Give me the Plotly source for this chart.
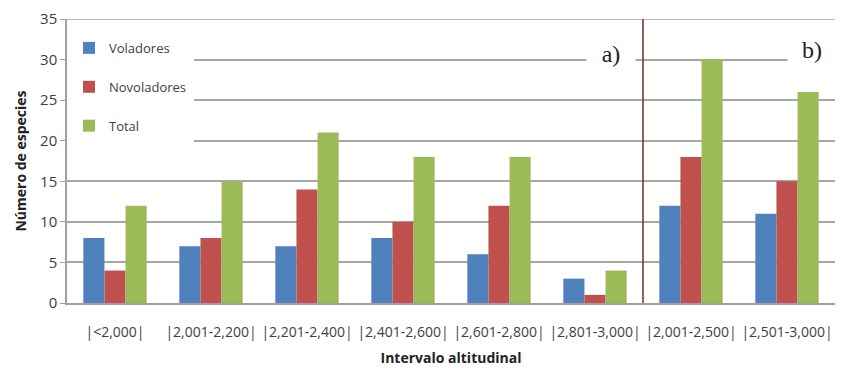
import plotly.graph_objects as go

categories = ["|<2,000|", "|2,001-2,200|", "|2,201-2,400|", "|2,401-2,600|",
              "|2,601-2,800|", "|2,801-3,000|", "|2,001-2,500|", "|2,501-3,000|"]
voladores = [8, 7, 7, 8, 6, 3, 12, 11]
novoladores = [4, 8, 14, 10, 12, 1, 18, 15]
total = [12, 15, 21, 18, 18, 4, 30, 26]
y_ticks = [0, 5, 10, 15, 20, 25, 30, 35]
y_max = 35

fig = go.Figure()
series = [("Voladores", voladores, "#4f81bd"),
          ("Novoladores", novoladores, "#c0504d"),
          ("Total", total, "#9bbb59")]
for i, (name, vals, col) in enumerate(series):
    fig.add_trace(go.Bar(x=list(range(len(categories))), y=vals, name=name,
                         marker=dict(color=col, line=dict(width=0)),
                         legendgroup=f"g{i}"))

# top gridline (plotly omits the gridline at the range edge)
fig.add_shape(type="line", xref="paper", yref="y", x0=0, x1=1, y0=y_max, y1=y_max,
              line=dict(color="#a6a6a6", width=1.5), layer="below")
fig.add_shape(type="line", xref="x", yref="paper", x0=5.5, x1=5.5, y0=0, y1=1,
              line=dict(color="#7a2626", width=1.5))

fig.add_annotation(x=0.708, y=0.877, xref="paper", yref="paper", text="a)",
                   showarrow=False, bgcolor="white", borderpad=6, width=36,
                   xanchor="center", yanchor="middle",
                   font=dict(family="Liberation Serif", size=24, color="#222"))
fig.add_annotation(x=0.970, y=0.891, xref="paper", yref="paper", text="b)",
                   showarrow=False, bgcolor="white", borderpad=6, width=36,
                   xanchor="center", yanchor="middle",
                   font=dict(family="Liberation Serif", size=24, color="#222"))

fig.update_layout(
    width=851, height=374,
    margin=dict(l=59, r=24, t=11, b=79, autoexpand=False),
    paper_bgcolor="white", plot_bgcolor="white",
    barmode="group", bargap=0.34, bargroupgap=0,
    font=dict(family="Open Sans", size=12, color="#404040"),
    legend=dict(x=0.0, y=0.958, xanchor="left", yanchor="top",
                bgcolor="white", tracegroupgap=19,
                bordercolor="white", borderwidth=2,
                font=dict(family="Open Sans", size=13, color="#404040"),
                traceorder="grouped"),
    xaxis=dict(tickmode="array", tickvals=list(range(len(categories))),
               ticktext=categories, range=[-0.5, len(categories) - 0.5],
               showline=True, linecolor="#a0a0a0", linewidth=1.5,
               ticks="", showgrid=False, ticklabelstandoff=15,
               title=dict(text="<b>Intervalo altitudinal</b>", standoff=14,
                          font=dict(size=14, color="#222")),
               tickfont=dict(size=14, color="#404040")),
    yaxis=dict(range=[0, y_max], tickmode="array", tickvals=y_ticks,
               showline=True, linecolor="#a0a0a0", linewidth=1.5,
               ticks="outside", ticklen=5, tickcolor="#a0a0a0",
               showgrid=True, gridcolor="#a6a6a6", gridwidth=1.5,
               title=dict(text="<b>Número de especies</b>", standoff=10,
                          font=dict(size=14, color="#222")),
               tickfont=dict(size=15, color="#404040")),
)

fig.write_html("out.html")
